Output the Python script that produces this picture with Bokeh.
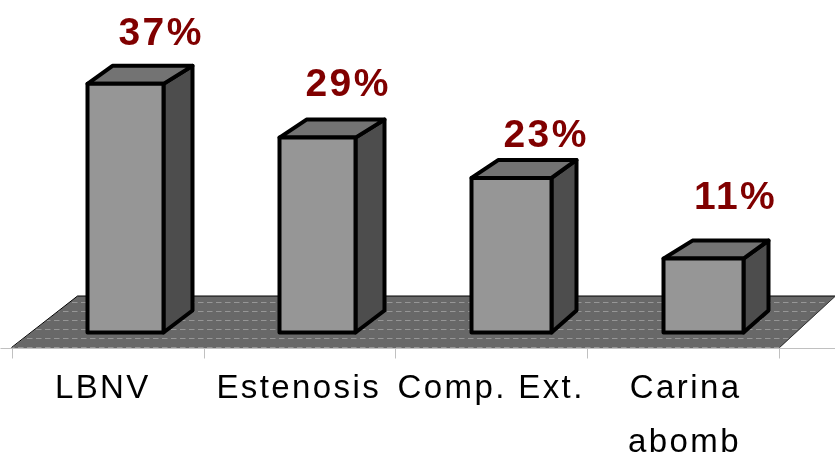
from bokeh.plotting import figure
from bokeh.models import Range1d, FixedTicker, ColumnDataSource, LinearAxis
from bokeh.core.properties import value
from bokeh.embed import file_html
from bokeh.resources import INLINE

categories = ["LBNV", "Estenosis", "Comp. Ext.", "Carina\nabomb"]
values = [37, 29, 23, 11]
labels = ["37%", "29%", "23%", "11%"]

# layout (pixels per unit, offsets)
W, H, AX = 835, 461, 113
PX_X, PX_Y = 192.0, 6.72
X0, Y0 = 125.0, 332.0
xs = [i for i in range(len(values))]
half_l = [38, 38, 40, 40]
half_r = [38, 38, 40, 40]
centre_shift = [0, 0, 2, 2]
back_l = [25, 27, 27, 29]
back_r = [29, 29, 25, 25]
DY_T, DY_B = 18, 22
lab_dx = [32, 27, 33, 30.5]
lab_dy = [52, 55, 44, 63]
cat_shift = [-0.143, -0.154, -0.158, -0.12]

def fx(px):
    return (px - X0) / PX_X
def fy(px):
    return (Y0 - px) / PX_Y

p = figure(width=W, height=H, output_backend="svg", toolbar_location=None,
           x_range=Range1d(fx(0), fx(W)), y_range=Range1d(fy(H - AX), fy(0)),
           min_border=0, min_border_bottom=AX, min_border_left=0, min_border_right=0, min_border_top=0,
           outline_line_color=None, background_fill_color="white", border_fill_color="white")
p.styles = {"position": "fixed", "left": "0px", "top": "0px", "letter-spacing": "2.4px"}
p.grid.visible = False
p.yaxis.visible = False

# floor
floor_x = [fx(v) for v in (11, 779, 835, 77)]
floor_y = [fy(v) for v in (347.5, 347.5, 295.5, 295.5)]
p.patch(floor_x, floor_y, fill_color="#686868", line_color=None,
        hatch_pattern="horizontal_dash", hatch_color="#969696", hatch_scale=9, hatch_weight=1)
p.line([fx(11), fx(77), fx(835)], [fy(347), fy(295.5), fy(295.5)], line_color="black", line_width=1)
p.line([fx(779), fx(835)], [fy(347), fy(295.5)], line_color="#333333", line_width=1)

# bars
for i, v in enumerate(values):
    c = xs[i] + centre_shift[i] / PX_X
    l = c - half_l[i] / PX_X
    r = c + half_r[i] / PX_X
    bl = l + back_l[i] / PX_X
    br = r + back_r[i] / PX_X
    t = v
    dyt, dyb = DY_T / PX_Y, DY_B / PX_Y
    style = dict(line_color="black", line_width=4, line_join="round")
    p.patch([r, br, br, r], [0, dyb, t + dyt, t], fill_color="#4d4d4d", **style)
    p.patch([l, bl, br, r], [t, t + dyt, t + dyt, t], fill_color="#737373", **style)
    p.patch([l, r, r, l], [0, 0, t, t], fill_color="#969696", **style)

src = ColumnDataSource(dict(
    x=[xs[i] + lab_dx[i] / PX_X for i in xs],
    y=[values[i] + lab_dy[i] / PX_Y for i in xs],
    t=labels))
p.text("x", "y", text="t", source=src, text_font=value("Liberation Sans"), text_font_style="bold",
       text_font_size="39px", text_color="#800000", text_align="center", text_baseline="alphabetic")

# axis
tick_px = [11.5, 203.5, 395, 587, 779]
label_x = [xs[i] + cat_shift[i] for i in xs]
first_lines = [c.split("\n")[0] for c in categories]
second = categories[3].split("\n")[1]
ax = p.xaxis[0]
ax.ticker = FixedTicker(ticks=label_x, minor_ticks=[fx(v) for v in tick_px])
ax.major_label_overrides = {label_x[i]: first_lines[i] for i in xs}
ax.axis_line_color="#c0c0c0"
ax.axis_line_width=1
ax.major_tick_line_color=None
ax.minor_tick_line_color="#c0c0c0"
ax.minor_tick_in=0
ax.minor_tick_out=10
ax.major_label_standoff=9
ax.major_label_text_font="Liberation Sans"
ax.major_label_text_font_size="33px"
ax.major_label_text_color="black"

# the second line of the last category label sits on its own axis, within the page height
ax2 = LinearAxis(ticker=FixedTicker(ticks=[label_x[3]], minor_ticks=[]),
                 major_label_overrides={label_x[3]: second},
                 axis_line_color=None, major_tick_line_color=None, minor_tick_line_color=None,
                 major_label_standoff=8,
                 major_label_text_font="Liberation Sans", major_label_text_font_size="33px",
                 major_label_text_color="black")
p.add_layout(ax2, "below")

open("out.html", "w").write(file_html(p, INLINE))
